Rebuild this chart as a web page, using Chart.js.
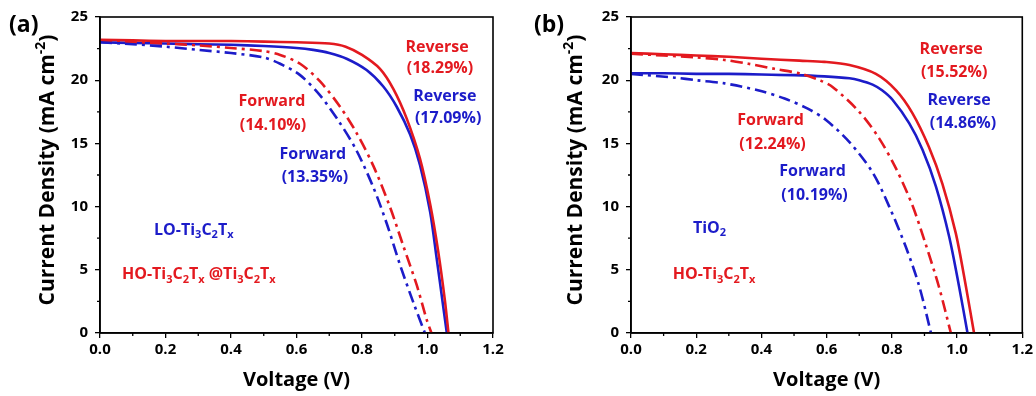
<!DOCTYPE html>
<html>
<head>
<meta charset="utf-8">
<script src="https://cdn.jsdelivr.net/npm/chart.js@4.4.1/dist/chart.umd.min.js"></script>
<style>
  html, body { margin: 0; padding: 0; background: #fff; }
  #wrap { position: relative; width: 1036px; height: 396px; }
  .panel { position: absolute; top: 0; width: 518px; height: 396px; }
</style>
</head>
<body>
<div id="wrap">
  <div class="panel" style="left:0"><canvas id="chartA"></canvas></div>
  <div class="panel" style="left:518px"><canvas id="chartB"></canvas></div>
</div>
<script>
// J-V curves (voltage in V, current density in mA cm-2)
// panel (a): LO-Ti3C2Tx (blue) vs HO-Ti3C2Tx@Ti3C2Tx (red)
const aRevRedV = [0, 0.1, 0.2, 0.3, 0.4, 0.5, 0.6, 0.7, 0.75, 0.8, 0.855, 0.896, 0.936, 0.977, 1.008, 1.033, 1.053, 1.064];
const aRevRedJ = [23.2, 23.15, 23.1, 23.1, 23.1, 23.05, 23.0, 22.9, 22.65, 22.0, 20.9, 19.3, 17.0, 13.8, 10.2, 6.4, 2.6, 0];
const aFwdRedV = [0, 0.1, 0.2, 0.3, 0.4, 0.5, 0.55, 0.611, 0.672, 0.733, 0.784, 0.835, 0.885, 0.926, 0.967, 0.997, 1.012];
const aFwdRedJ = [23.1, 23.0, 22.9, 22.75, 22.55, 22.3, 22.0, 21.3, 19.9, 17.9, 15.8, 13.2, 10.0, 6.9, 3.8, 1.1, 0];
const aRevBlueV = [0, 0.1, 0.2, 0.3, 0.4, 0.5, 0.6, 0.651, 0.7, 0.753, 0.814, 0.865, 0.906, 0.947, 0.977, 1.008, 1.028, 1.048, 1.059];
const aRevBlueJ = [23.0, 22.95, 22.9, 22.85, 22.8, 22.7, 22.55, 22.4, 22.15, 21.7, 20.8, 19.5, 17.9, 15.7, 13.3, 9.6, 5.9, 2.1, 0];
const aFwdBlueV = [0, 0.1, 0.2, 0.3, 0.4, 0.5, 0.55, 0.611, 0.672, 0.733, 0.784, 0.835, 0.875, 0.916, 0.957, 0.992];
const aFwdBlueJ = [23.0, 22.85, 22.65, 22.4, 22.15, 21.8, 21.3, 20.4, 18.8, 16.6, 14.4, 11.5, 8.7, 5.4, 2.4, 0];

// panel (b): TiO2 (blue) vs HO-Ti3C2Tx (red)
const bRevRedV = [0, 0.1, 0.2, 0.3, 0.4, 0.517, 0.593, 0.67, 0.751, 0.813, 0.863, 0.914, 0.955, 0.996, 1.027, 1.052];
const bRevRedJ = [22.15, 22.05, 21.95, 21.85, 21.7, 21.55, 21.45, 21.2, 20.5, 19.2, 17.4, 14.7, 11.8, 7.9, 3.7, 0];
const bFwdRedV = [0, 0.1, 0.2, 0.287, 0.36, 0.44, 0.522, 0.583, 0.619, 0.7, 0.761, 0.813, 0.863, 0.904, 0.945, 0.981];
const bFwdRedJ = [22.1, 21.95, 21.8, 21.6, 21.3, 20.9, 20.5, 19.95, 19.45, 17.5, 15.4, 13.0, 10.1, 7.0, 3.6, 0];
const bRevBlueV = [0, 0.1, 0.2, 0.3, 0.4, 0.5, 0.593, 0.67, 0.7, 0.741, 0.77, 0.802, 0.853, 0.894, 0.935, 0.976, 1.006, 1.032];
const bRevBlueJ = [20.55, 20.55, 20.5, 20.5, 20.45, 20.4, 20.3, 20.15, 20.0, 19.65, 19.2, 18.45, 16.6, 14.5, 11.6, 7.6, 3.7, 0];
const bFwdBlueV = [0, 0.135, 0.2, 0.287, 0.389, 0.471, 0.542, 0.598, 0.67, 0.741, 0.792, 0.843, 0.884, 0.92];
const bFwdBlueJ = [20.5, 20.2, 20.0, 19.75, 19.2, 18.55, 17.75, 16.85, 15.1, 12.7, 10.0, 6.8, 3.7, 0];

const xTicksMinor = [0.1, 0.3, 0.5, 0.7, 0.9, 1.1];
const yTicksMinor = [2.5, 7.5, 12.5, 17.5, 22.5];

const RED = '#e3191f';
const BLUE = '#1c1cc9';
const FONT = '"Open Sans", "Noto Sans", sans-serif';
const DASHDOT = [12, 5, 3, 5];

function pts(vs, js) {
  return vs.map((v, i) => ({ x: v, y: js[i] }));
}

// text with sub/superscripts: segs = [[text, ''|'sub'|'sup'], ...]
function drawRich(ctx, segs, x, y, size, color, align) {
  const fontFor = m => `bold ${m ? Math.round(size * 0.68) : size}px ${FONT}`;
  const widths = segs.map(([t, m]) => { ctx.font = fontFor(m); return ctx.measureText(t).width; });
  const total = widths.reduce((a, b) => a + b, 0);
  let cx = align === 'center' ? x - total / 2 : x;
  ctx.fillStyle = color;
  ctx.textBaseline = 'middle';
  ctx.textAlign = 'left';
  segs.forEach(([t, m], i) => {
    ctx.font = fontFor(m);
    const dy = m === 'sub' ? size * 0.3 : m === 'sup' ? -size * 0.33 : 0;
    ctx.fillText(t, cx, y + dy);
    cx += widths[i];
  });
}

// frame, minor ticks, y title, panel letter and in-plot labels
const decor = {
  id: 'decor',
  afterDraw(chart, args, o) {
    const { ctx, chartArea: ca, scales } = chart;
    ctx.save();
    ctx.strokeStyle = '#000';
    ctx.lineWidth = 1.6;
    ctx.strokeRect(ca.left, ca.top, ca.right - ca.left, ca.bottom - ca.top);
    ctx.lineWidth = 1.3;
    ctx.beginPath();
    xTicksMinor.forEach(v => {
      const px = scales.x.getPixelForValue(v);
      ctx.moveTo(px, ca.bottom); ctx.lineTo(px, ca.bottom + 3);
    });
    yTicksMinor.forEach(v => {
      const py = scales.y.getPixelForValue(v);
      ctx.moveTo(ca.left, py); ctx.lineTo(ca.left - 3, py);
    });
    ctx.stroke();

    // y axis title with superscript
    ctx.save();
    ctx.translate(o.titleX, 170);
    ctx.rotate(-Math.PI / 2);
    drawRich(ctx, [['Current Density (mA cm', ''], ['-2', 'sup'], [')', '']], 0, 0, 21, '#000', 'center');
    ctx.restore();

    drawRich(ctx, [[o.letter, '']], o.letterX, 25, 23, '#000', 'left');

    o.notes.forEach(n => {
      drawRich(ctx, n.segs, scales.x.getPixelForValue(n.x), scales.y.getPixelForValue(n.y), 16, n.color, n.align || 'center');
    });
    ctx.restore();
  }
};

function makePanel(id, series, cfg) {
  return new Chart(document.getElementById(id), {
    type: 'line',
    data: {
      datasets: series.map(s => ({
        data: s.data,
        borderColor: s.color,
        borderWidth: 2.6,
        borderDash: s.dash ? DASHDOT : [],
        pointRadius: 0,
        tension: 0.3,
        fill: false
      }))
    },
    options: {
      responsive: true,
      maintainAspectRatio: false,
      animation: false,
      layout: { padding: { left: 0, top: 17, right: cfg.padRight, bottom: 0 } },
      plugins: {
        legend: { display: false },
        tooltip: { enabled: false },
        decor: cfg
      },
      scales: {
        x: {
          type: 'linear',
          min: 0, max: 1.2,
          border: { display: true, color: '#000', width: 1.6 },
          grid: { drawOnChartArea: false, drawTicks: true, tickLength: 5, color: '#000', lineWidth: 1.3 },
          ticks: {
            stepSize: 0.2, padding: 3, color: '#000',
            font: { family: FONT, size: 15, weight: 'bold' },
            maxRotation: 0,
            callback: v => v.toFixed(1)
          },
          title: {
            display: true, text: 'Voltage (V)', color: '#000',
            font: { family: FONT, size: 20, weight: 'bold' },
            padding: { top: 0, bottom: 4 }
          },
          afterFit: s => { s.height = 63; }
        },
        y: {
          min: 0, max: 25,
          border: { display: true, color: '#000', width: 1.6 },
          grid: { drawOnChartArea: false, drawTicks: true, tickLength: 5, color: '#000', lineWidth: 1.3 },
          ticks: {
            stepSize: 5, padding: 7, color: '#000',
            font: { family: FONT, size: 15, weight: 'bold' }
          },
          afterFit: s => { s.width = cfg.axisWidth; }
        }
      }
    },
    plugins: [decor]
  });
}

makePanel('chartA', [
  { data: pts(aFwdBlueV, aFwdBlueJ), color: BLUE, dash: true },
  { data: pts(aFwdRedV, aFwdRedJ), color: RED, dash: true },
  { data: pts(aRevRedV, aRevRedJ), color: RED },
  { data: pts(aRevBlueV, aRevBlueJ), color: BLUE }
], {
  axisWidth: 100, padRight: 25, titleX: 48, letter: '(a)', letterX: 9,
  notes: [
    { segs: [['Reverse', '']], x: 1.029, y: 22.6, color: RED },
    { segs: [['(18.29%)', '']], x: 1.038, y: 20.9, color: RED },
    { segs: [['Reverse', '']], x: 1.053, y: 18.7, color: BLUE },
    { segs: [['(17.09%)', '']], x: 1.063, y: 17.0, color: BLUE },
    { segs: [['Forward', '']], x: 0.525, y: 18.3, color: RED },
    { segs: [['(14.10%)', '']], x: 0.528, y: 16.4, color: RED },
    { segs: [['Forward', '']], x: 0.650, y: 14.1, color: BLUE },
    { segs: [['(13.35%)', '']], x: 0.656, y: 12.3, color: BLUE },
    { segs: [['LO-Ti', ''], ['3', 'sub'], ['C', ''], ['2', 'sub'], ['T', ''], ['x', 'sub']], x: 0.165, y: 8.15, color: BLUE, align: 'left' },
    { segs: [['HO-Ti', ''], ['3', 'sub'], ['C', ''], ['2', 'sub'], ['T', ''], ['x', 'sub'], [' @Ti', ''], ['3', 'sub'], ['C', ''], ['2', 'sub'], ['T', ''], ['x', 'sub']], x: 0.067, y: 4.6, color: RED, align: 'left' }
  ]
});

makePanel('chartB', [
  { data: pts(bFwdBlueV, bFwdBlueJ), color: BLUE, dash: true },
  { data: pts(bFwdRedV, bFwdRedJ), color: RED, dash: true },
  { data: pts(bRevBlueV, bRevBlueJ), color: BLUE },
  { data: pts(bRevRedV, bRevRedJ), color: RED }
], {
  axisWidth: 113, padRight: 13, titleX: 58, letter: '(b)', letterX: 16,
  notes: [
    { segs: [['Reverse', '']], x: 0.982, y: 22.4, color: RED },
    { segs: [['(15.52%)', '']], x: 0.991, y: 20.6, color: RED },
    { segs: [['Reverse', '']], x: 1.006, y: 18.4, color: BLUE },
    { segs: [['(14.86%)', '']], x: 1.018, y: 16.6, color: BLUE },
    { segs: [['Forward', '']], x: 0.428, y: 16.85, color: RED },
    { segs: [['(12.24%)', '']], x: 0.434, y: 14.95, color: RED },
    { segs: [['Forward', '']], x: 0.557, y: 12.75, color: BLUE },
    { segs: [['(10.19%)', '']], x: 0.563, y: 10.9, color: BLUE },
    { segs: [['TiO', ''], ['2', 'sub']], x: 0.19, y: 8.3, color: BLUE, align: 'left' },
    { segs: [['HO-Ti', ''], ['3', 'sub'], ['C', ''], ['2', 'sub'], ['T', ''], ['x', 'sub']], x: 0.128, y: 4.6, color: RED, align: 'left' }
  ]
});
</script>
</body>
</html>
